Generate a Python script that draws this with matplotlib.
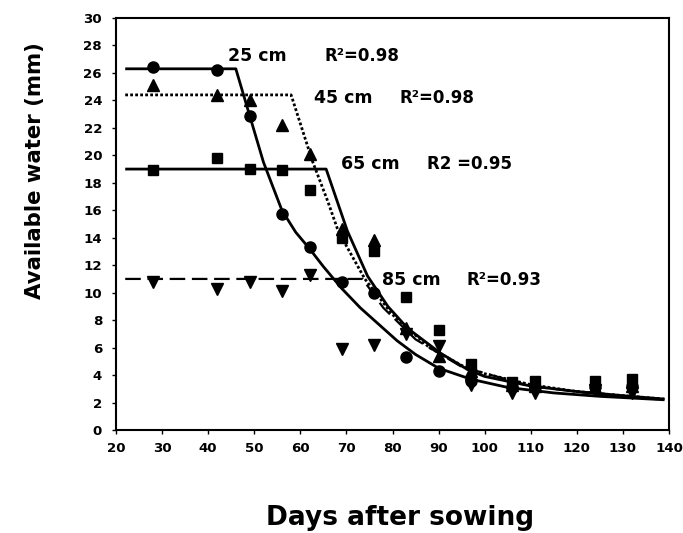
import matplotlib.pyplot as plt

plt.rcParams["font.family"] = ["DejaVu Sans"]
plt.rcParams["font.weight"] = "bold"

# sampling dates (days after sowing)
days = [28, 42, 49, 56, 62, 69, 76, 83, 90, 97, 106, 111, 124, 132]

# measured available water (mm) per soil depth
water_25 = [26.4, 26.2, 22.9, 15.7, 13.3, 10.8, 10.0, 5.3, 4.3, 3.6, 3.1, 3.1, 3.1, 3.2]
water_45 = [25.1, 24.4, 24.0, 22.2, 20.1, 14.6, 13.8, 7.4, 5.4, 4.3, 3.3, 3.2, 3.1, 3.2]
water_65 = [18.9, 19.8, 19.0, 18.9, 17.5, 14.0, 13.0, 9.7, 7.3, 4.8, 3.5, 3.6, 3.6, 3.7]
water_85 = [10.8, 10.3, 10.8, 10.1, 11.3, 5.9, 6.2, 7.0, 6.1, 3.3, 2.7, 2.7, 2.9, 2.7]

# fitted plateau + decline curves
fit25_x = [22, 46, 49, 52, 56, 59, 62, 65, 69, 73, 77, 81, 85, 90, 97, 105, 115, 125, 139]
fit25_y = [26.3, 26.3, 22.9, 19.5, 16.0, 14.4, 13.2, 11.9, 10.3, 8.9, 7.7, 6.5, 5.5, 4.5, 3.7, 3.1, 2.7, 2.45, 2.2]
fit45_x = [22, 58, 62.6, 65.9, 68, 70, 74, 80, 88, 95, 100, 110, 120, 130, 139]
fit45_y = [24.4, 24.4, 19.6, 16.7, 14.7, 13.4, 11.0, 8.4, 6.0, 4.7, 4.1, 3.3, 2.8, 2.5, 2.25]
fit65_x = [22, 65.6, 70.2, 74.6, 79, 83.3, 90.4, 96.3, 100, 110, 120, 130, 139]
fit65_y = [19.0, 19.0, 14.5, 11.2, 9.0, 7.4, 5.6, 4.4, 3.9, 3.2, 2.8, 2.5, 2.25]
fit85_x = [22, 73.5, 78, 85, 95, 110, 125, 139]
fit85_y = [11.0, 11.0, 8.9, 6.6, 4.6, 3.2, 2.6, 2.2]

# depth label, R² label and their anchor positions
depth_labels = ["25 cm", "45 cm", "65 cm", "85 cm"]
r2_labels = ["R²=0.98", "R²=0.98", "R2 =0.95", "R²=0.93"]
label_x = [44.3, 62.9, 68.9, 77.8]
r2_x = [65.3, 81.5, 87.4, 96.0]
label_y = [27.2, 24.2, 19.4, 10.9]

fig = plt.figure(figsize=(6.83, 5.33), dpi=100)
ax = fig.add_axes([116 / 683, 1 - 430 / 533, (669 - 116) / 683, (430 - 18) / 533])

ax.plot(fit25_x, fit25_y, color="black", lw=2.0, solid_capstyle="butt")
ax.plot(fit45_x, fit45_y, color="black", lw=2.0, linestyle=(0, (1, 0.8)))
ax.plot(fit65_x, fit65_y, color="black", lw=2.0, solid_capstyle="butt")
ax.plot(fit85_x, fit85_y, color="black", lw=1.6, linestyle=(0, (7, 3)))

ax.plot(days, water_25, "o", color="black", ms=8)
ax.plot(days, water_45, "^", color="black", ms=8)
ax.plot(days, water_65, "s", color="black", ms=7)
ax.plot(days, water_85, "v", color="black", ms=8)

for name, r2, x0, x1, y in zip(depth_labels, r2_labels, label_x, r2_x, label_y):
    ax.text(x0, y, name, fontsize=12.5, fontweight="bold", va="center", ha="left")
    ax.text(x1, y, r2, fontsize=12, fontweight="bold", va="center", ha="left")

ax.set_xlim(20, 140)
ax.set_ylim(0, 30)
ax.set_xticks(range(20, 141, 10))
ax.set_yticks(range(0, 31, 2))
ax.tick_params(axis="both", labelsize=9.6, length=3, width=1)
ax.tick_params(axis="x", pad=6)
ax.tick_params(axis="y", pad=7)
for t in ax.get_xticklabels() + ax.get_yticklabels():
    t.set_fontweight("bold")
for s in ax.spines.values():
    s.set_linewidth(1.5)

ax.set_ylabel("Available water (mm)", fontsize=15.3, fontweight="bold")
ax.yaxis.set_label_coords(-0.146, 0.629)
ax.set_xlabel("Days after sowing", fontsize=19, fontweight="bold")
ax.xaxis.set_label_coords(0.514, -0.214)
ax.xaxis.label.set_va("center")
ax.yaxis.label.set_va("center")

fig.savefig("out.png", dpi=100)
